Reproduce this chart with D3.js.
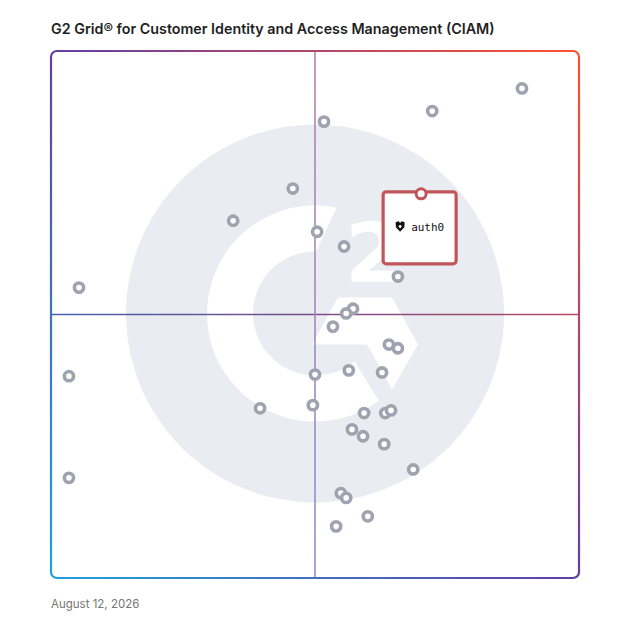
<!DOCTYPE html>
<html>
<head>
<meta charset="utf-8">
<script src="https://cdn.jsdelivr.net/npm/d3@7"></script>
<style>
  body { margin: 0; background: #fff; }
  svg { display: block; }
</style>
</head>
<body>
<script>
// vendor positions, satisfaction (x) and market presence (y), 0..100
const vendorX = [89.2, 72.2, 51.7, 45.8, 34.5, 50.4, 55.5, 65.7, 5.3, 57.2, 55.9, 53.4, 64.0, 65.7, 3.4, 50.0,
  56.4, 62.7, 39.6, 49.6, 59.3, 63.3, 64.4, 57.0, 59.1, 63.1, 68.6, 3.4, 54.9, 55.9, 60.0, 54.0];
const vendorY = [92.9, 88.6, 86.6, 73.9, 67.8, 65.7, 62.9, 57.2, 55.1, 51.1, 50.2, 47.7, 44.3, 43.6, 38.3, 38.6,
  39.4, 39.0, 32.2, 32.8, 31.3, 31.3, 31.8, 28.2, 26.9, 25.4, 20.6, 19.0, 16.1, 15.2, 11.7, 9.8];
const highlightName = "auth0";
const highlightX = 70.1;
const highlightY = 72.9;

const titleText = "G2 Grid\u00ae for Customer Identity and Access Management (CIAM)";
const dateText = "August 12, 2026";

const W = 628, H = 628;
var margin = { top: 51, left: 51, right: 49, bottom: 50 };

var svg = d3.select("body").append("svg")
  .attr("width", W)
  .attr("height", H);

var x = d3.scaleLinear().domain([0, 100]).range([margin.left, W - margin.right]);
var y = d3.scaleLinear().domain([0, 100]).range([H - margin.bottom, margin.top]);

var defs = svg.append("defs");

// border gradient: cyan bottom-left -> purple -> orange top-right
var gb = defs.append("linearGradient").attr("id", "border")
  .attr("x1", "0").attr("y1", "1").attr("x2", "1").attr("y2", "0");
gb.append("stop").attr("offset", "0%").attr("stop-color", "#1ea2da");
gb.append("stop").attr("offset", "50%").attr("stop-color", "#633ea3");
gb.append("stop").attr("offset", "100%").attr("stop-color", "#ff5231");

var gh = defs.append("linearGradient").attr("id", "hline")
  .attr("x1", "0").attr("y1", "0").attr("x2", "1").attr("y2", "0");
gh.append("stop").attr("offset", "0%").attr("stop-color", "#4862b2");
gh.append("stop").attr("offset", "50%").attr("stop-color", "#7a4f8c");
gh.append("stop").attr("offset", "100%").attr("stop-color", "#b84a60");

var gv = defs.append("linearGradient").attr("id", "vline")
  .attr("x1", "0").attr("y1", "0").attr("x2", "0").attr("y2", "1");
gv.append("stop").attr("offset", "0%").attr("stop-color", "#b47ba9");
gv.append("stop").attr("offset", "100%").attr("stop-color", "#8b89d4");

// title
svg.append("text")
  .attr("x", margin.left)
  .attr("y", 34)
  .attr("font-family", "Inter, 'Open Sans', sans-serif")
  .attr("font-weight", 600)
  .attr("font-size", 14.3)
  .attr("fill", "#1f1f1f")
  .text(titleText);

// G2 watermark
var cx = x(50), cy = y(50) - 1;
var wm = svg.append("g").attr("transform", "translate(" + cx + "," + cy + ")");
wm.append("circle").attr("r", 189).attr("fill", "#e9ecf0");

var deg = Math.PI / 180;
var ring = d3.path();
ring.moveTo(108 * Math.cos(-78.5 * deg), 108 * Math.sin(-78.5 * deg));
ring.arc(0, 0, 108, -78.5 * deg, 53.8 * deg, true);
ring.lineTo(62 * Math.cos(50.2 * deg), 62 * Math.sin(50.2 * deg));
ring.arc(0, 0, 62, 50.2 * deg, 271 * deg, false);
ring.closePath();
wm.append("path").attr("d", ring.toString()).attr("fill", "#fff");

wm.append("polygon")
  .attr("points", [[23, -16], [77, -16], [103, 31], [77, 76], [52, 31], [-3, 31]].map(p => p.join(",")).join(" "))
  .attr("fill", "#fff");

wm.append("text")
  .attr("x", 30)
  .attr("y", -32)
  .attr("font-family", "'DejaVu Sans', sans-serif")
  .attr("font-weight", "bold")
  .attr("font-size", 82)
  .attr("fill", "#fff")
  .text("2");

// quadrant lines
svg.append("rect")
  .attr("x", margin.left).attr("y", y(50) - 0.75)
  .attr("width", x(100) - x(0)).attr("height", 1.5)
  .attr("fill", "url(#hline)");
svg.append("rect")
  .attr("x", x(50) - 0.75).attr("y", margin.top)
  .attr("width", 1.5).attr("height", y(0) - y(100))
  .attr("fill", "url(#vline)");

// frame
svg.append("rect")
  .attr("x", x(0)).attr("y", y(100))
  .attr("width", x(100) - x(0)).attr("height", y(0) - y(100))
  .attr("rx", 6)
  .attr("fill", "none")
  .attr("stroke", "url(#border)")
  .attr("stroke-width", 2.2);

// vendor dots
var vendors = vendorX.map((v, i) => ({ x: v, y: vendorY[i] }));
svg.append("g").selectAll("circle")
  .data(vendors)
  .enter().append("circle")
  .attr("cx", d => x(d.x))
  .attr("cy", d => y(d.y))
  .attr("r", 4.6)
  .attr("fill", "#fff")
  .attr("stroke", "#9ea3af")
  .attr("stroke-width", 3.6);

// highlighted product
var hx = x(highlightX), hy = y(highlightY);
var hl = svg.append("g");
hl.append("rect")
  .attr("x", hx - 38).attr("y", hy - 2)
  .attr("width", 73).attr("height", 72)
  .attr("rx", 3)
  .attr("fill", "#fff")
  .attr("stroke", "#c0565a")
  .attr("stroke-width", 3.2);
hl.append("circle")
  .attr("cx", hx).attr("cy", hy)
  .attr("r", 5)
  .attr("fill", "#fff")
  .attr("stroke", "#c0565a")
  .attr("stroke-width", 3);

// auth0 mark: small shield + word
var shield = hl.append("g").attr("transform", "translate(" + (hx - 21) + "," + (hy + 33) + ")");
shield.append("path")
  .attr("d", "M-4.5,-4.5 L-1.5,-5.5 L0,-3.8 L1.5,-5.5 L4.5,-4.5 L4.2,0.5 L0,5 L-4.2,0.5 Z")
  .attr("fill", "#111");
shield.append("path")
  .attr("d", "M-1.8,-0.5 L0,-2 L1.8,-0.5 L0,1.6 Z")
  .attr("fill", "#fff");
hl.append("text")
  .attr("x", hx - 10)
  .attr("y", hy + 37)
  .attr("font-family", "'DejaVu Sans Mono', monospace")
  .attr("font-size", 11)
  .attr("fill", "#111")
  .text(highlightName);

// date
svg.append("text")
  .attr("x", margin.left)
  .attr("y", 608)
  .attr("font-family", "Inter, 'Open Sans', sans-serif")
  .attr("font-size", 11.5)
  .attr("fill", "#757575")
  .text(dateText);
</script>
</body>
</html>
